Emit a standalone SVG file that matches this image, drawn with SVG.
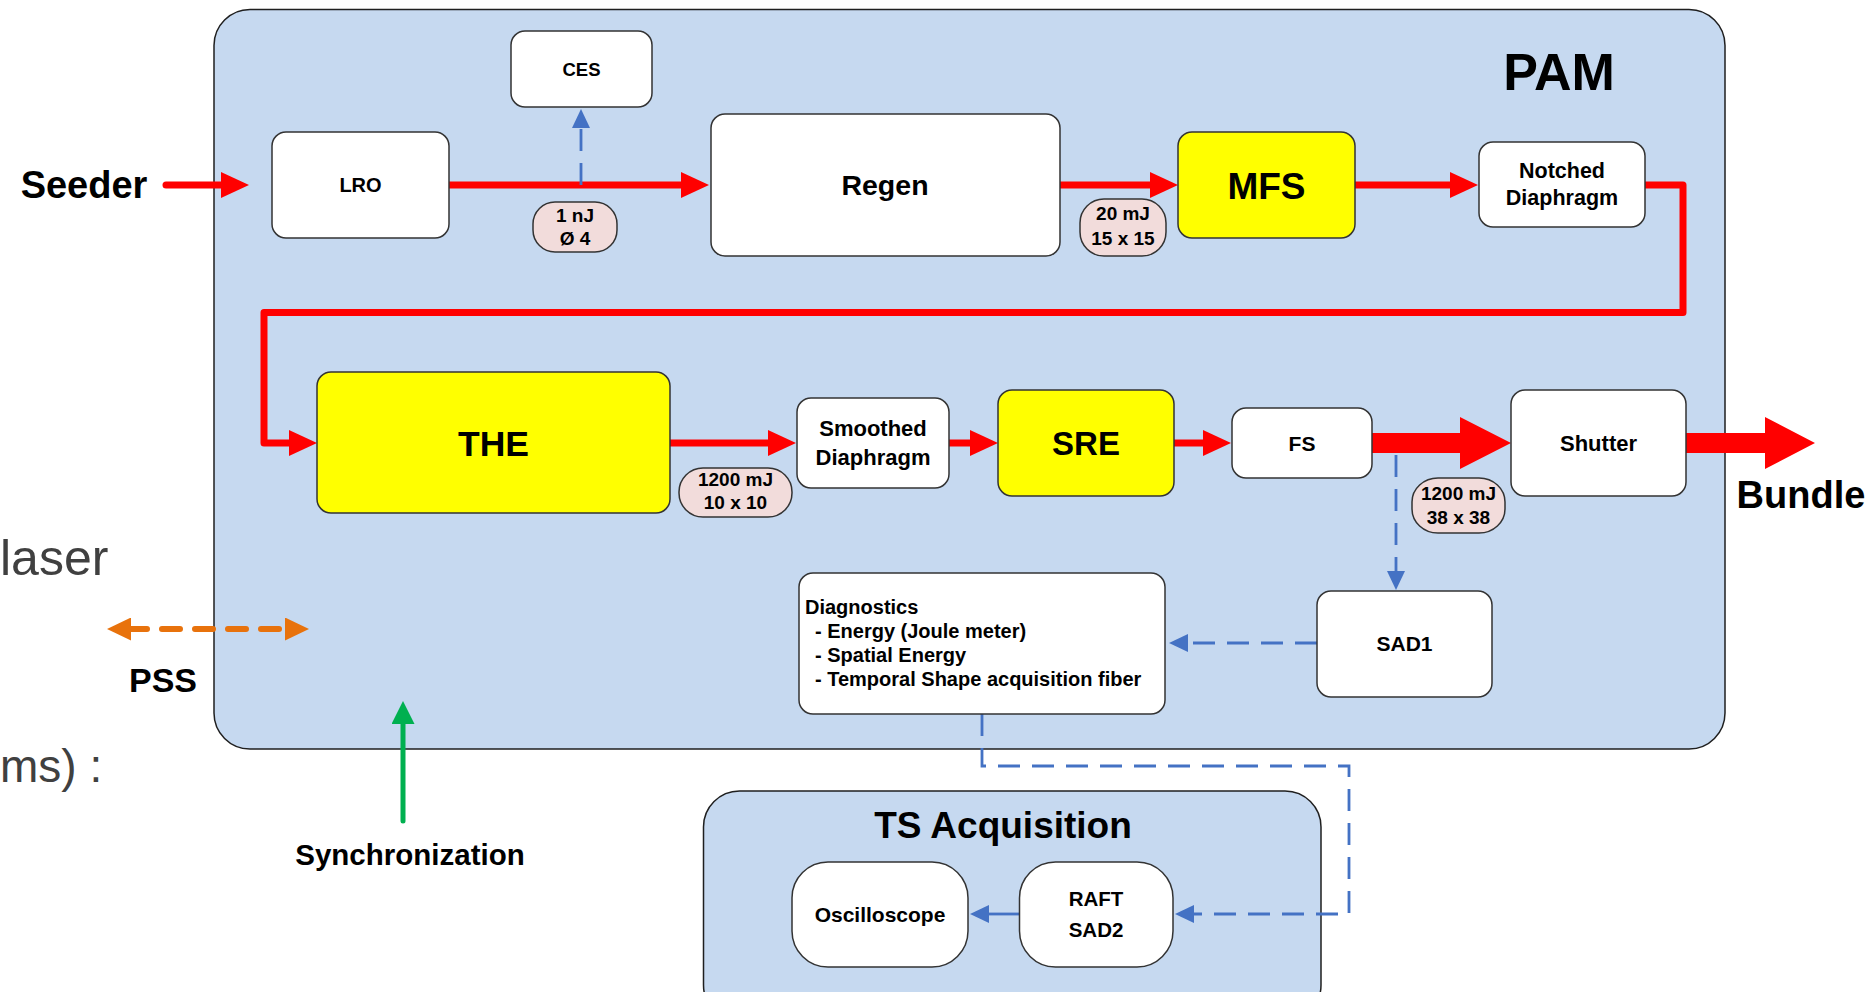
<svg xmlns="http://www.w3.org/2000/svg" width="1876" height="992" viewBox="0 0 1876 992">
  <style>
    text { font-family: "Liberation Sans", Arial, sans-serif; font-weight: bold; fill: #000; text-anchor: middle; }
    .container { fill: #c6d9f0; stroke: #1f1f1f; stroke-width: 1.5; }
    .box { fill: #ffffff; stroke: #333333; stroke-width: 1.5; }
    .hot { fill: #ffff00; stroke: #333333; stroke-width: 1.5; }
    .pill { fill: #f2dcdb; stroke: #333333; stroke-width: 1.5; }
    .beam { fill: none; stroke: #ff0000; stroke-width: 7; stroke-linejoin: round; }
    .beamHead { fill: #ff0000; }
    .signal { fill: none; stroke: #4472c4; stroke-width: 2.8; stroke-dasharray: 22 12; }
    .solid-signal { fill: none; stroke: #4472c4; stroke-width: 2.8; }
    .pss { fill: none; stroke: #e8720c; stroke-width: 6; stroke-dasharray: 18 15; stroke-linecap: round; }
    .sync { fill: none; stroke: #00b050; stroke-width: 5; stroke-linecap: round; }
    .grey { font-family: "Liberation Sans", Arial, sans-serif; font-weight: normal; fill: #404040; text-anchor: start; }
    .list { text-anchor: start; font-size: 20px; }
  </style>
  <defs>
    <marker id="redHead" viewBox="0 0 28 26" refX="1" refY="13" markerWidth="28" markerHeight="26" markerUnits="userSpaceOnUse" orient="auto">
      <path d="M0,0 L28,13 L0,26 z" fill="#ff0000"/>
    </marker>
    <marker id="blueHead" viewBox="0 0 19 18" refX="1" refY="9" markerWidth="19" markerHeight="18" markerUnits="userSpaceOnUse" orient="auto">
      <path d="M0,0 L19,9 L0,18 z" fill="#4472c4"/>
    </marker>
    <marker id="orangeHead" viewBox="0 0 24 23" refX="2" refY="11.5" markerWidth="24" markerHeight="23" markerUnits="userSpaceOnUse" orient="auto-start-reverse">
      <path d="M0,0 L24,11.5 L0,23 z" fill="#e8720c"/>
    </marker>
    <marker id="greenHead" viewBox="0 0 23 24" refX="1" refY="11.5" markerWidth="23" markerHeight="24" markerUnits="userSpaceOnUse" orient="auto">
      <path d="M0,0 L23,11.5 L0,23 z" fill="#00b050"/>
    </marker>
  </defs>

  <!-- surrounding slide text -->
  <text class="grey" x="0" y="575" font-size="50">laser</text>
  <text class="grey" x="0" y="782" font-size="46">ms) :</text>

  <!-- containers -->
  <g id="pam">
    <rect class="container" x="214" y="9.5" width="1511" height="739.5" rx="36"/>
    <text x="1559" y="90" font-size="52">PAM</text>
  </g>
  <g id="ts-acquisition">
    <rect class="container" x="703.5" y="791" width="617.5" height="230" rx="36"/>
    <text x="1003" y="838" font-size="37">TS Acquisition</text>
  </g>

  <!-- connectors -->
  <g id="connectors">
    <!-- laser beam path -->
    <path class="beam" d="M166,185 H222" stroke-linecap="round" marker-end="url(#redHead)"/>
    <path class="beam" d="M449,185 H682" marker-end="url(#redHead)"/>
    <path class="beam" d="M1060,185 H1151" marker-end="url(#redHead)"/>
    <path class="beam" d="M1355,185 H1451" marker-end="url(#redHead)"/>
    <path class="beam" d="M1645,185 H1683 V312.5 H264 V443 H290" marker-end="url(#redHead)"/>
    <path class="beam" d="M670,443 H769" marker-end="url(#redHead)"/>
    <path class="beam" d="M949,443 H971" marker-end="url(#redHead)"/>
    <path class="beam" d="M1174,443 H1204" marker-end="url(#redHead)"/>
    <!-- amplified beam -->
    <polygon class="beamHead" points="1372,433 1460,433 1460,417 1511,443 1460,469 1460,453 1372,453"/>
    <polygon class="beamHead" points="1686,433 1765,433 1765,417 1815,443 1765,469 1765,453 1686,453"/>

    <!-- diagnostic signals -->
    <path class="signal" d="M581,185 V127" marker-end="url(#blueHead)"/>
    <path class="signal" d="M1396,455 V572" stroke-dasharray="34 12" marker-end="url(#blueHead)"/>
    <path class="signal" d="M1317,643 H1187" stroke-dasharray="18 10" marker-end="url(#blueHead)"/>
    <path class="signal" d="M982,714 V766 H1349 V914 H1193" marker-end="url(#blueHead)"/>
    <path class="solid-signal" d="M1019.5,914 H988" marker-end="url(#blueHead)"/>

    <!-- external interfaces -->
    <path class="pss" d="M129,629 H287" marker-start="url(#orangeHead)" marker-end="url(#orangeHead)"/>
    <path class="sync" d="M403,821 V723" marker-end="url(#greenHead)"/>
  </g>

  <!-- external labels -->
  <text x="84" y="198" font-size="38">Seeder</text>
  <text x="1801" y="508" font-size="38">Bundle</text>
  <text x="163" y="692" font-size="34">PSS</text>
  <text x="410" y="865" font-size="29.5">Synchronization</text>

  <!-- PAM nodes -->
  <g id="lro">
    <rect class="box" x="272" y="132" width="177" height="106" rx="14"/>
    <text x="360.5" y="192" font-size="20">LRO</text>
  </g>
  <g id="ces">
    <rect class="box" x="511" y="31" width="141" height="76" rx="14"/>
    <text x="581.5" y="75.5" font-size="18.5">CES</text>
  </g>
  <g id="regen">
    <rect class="box" x="711" y="114" width="349" height="142" rx="14"/>
    <text x="885" y="195" font-size="28.5">Regen</text>
  </g>
  <g id="mfs">
    <rect class="hot" x="1178" y="132" width="177" height="106" rx="14"/>
    <text x="1266.5" y="198.5" font-size="37">MFS</text>
  </g>
  <g id="notched-diaphragm">
    <rect class="box" x="1479" y="142" width="166" height="85" rx="14"/>
    <text x="1562" y="178" font-size="21.5">Notched</text>
    <text x="1562" y="205" font-size="21.5">Diaphragm</text>
  </g>
  <g id="the">
    <rect class="hot" x="317" y="372" width="353" height="141" rx="14"/>
    <text x="493.5" y="456" font-size="35.5">THE</text>
  </g>
  <g id="smoothed-diaphragm">
    <rect class="box" x="797" y="398" width="152" height="90" rx="14"/>
    <text x="873" y="435.5" font-size="22">Smoothed</text>
    <text x="873" y="464.5" font-size="22">Diaphragm</text>
  </g>
  <g id="sre">
    <rect class="hot" x="998" y="390" width="176" height="106" rx="14"/>
    <text x="1086" y="455" font-size="33">SRE</text>
  </g>
  <g id="fs">
    <rect class="box" x="1232" y="408" width="140" height="70" rx="14"/>
    <text x="1302" y="450.5" font-size="21">FS</text>
  </g>
  <g id="shutter">
    <rect class="box" x="1511" y="390" width="175" height="106" rx="14"/>
    <text x="1598.5" y="450.5" font-size="22">Shutter</text>
  </g>
  <g id="sad1">
    <rect class="box" x="1317" y="591" width="175" height="106" rx="14"/>
    <text x="1404.5" y="650.5" font-size="21">SAD1</text>
  </g>
  <g id="diagnostics">
    <rect class="box" x="799" y="573" width="366" height="141" rx="14"/>
    <text class="list" x="805" y="614">Diagnostics</text>
    <text class="list" x="815" y="638">- Energy (Joule meter)</text>
    <text class="list" x="815" y="662">- Spatial Energy</text>
    <text class="list" x="815" y="686">- Temporal Shape acquisition fiber</text>
  </g>

  <!-- beam measurements -->
  <g id="label-1nj">
    <rect class="pill" x="533" y="202" width="84" height="50" rx="22" ry="22"/>
    <text x="575" y="222" font-size="19">1 nJ</text>
    <text x="575" y="245" font-size="19">Ø 4</text>
  </g>
  <g id="label-20mj">
    <rect class="pill" x="1080" y="199" width="86" height="57" rx="24" ry="24"/>
    <text x="1123" y="220" font-size="19">20 mJ</text>
    <text x="1123" y="245" font-size="19">15 x 15</text>
  </g>
  <g id="label-1200mj-a">
    <rect class="pill" x="679" y="468" width="113" height="49" rx="24" ry="24"/>
    <text x="735.5" y="485.5" font-size="19">1200 mJ</text>
    <text x="735.5" y="509" font-size="19">10 x 10</text>
  </g>
  <g id="label-1200mj-b">
    <rect class="pill" x="1412" y="478" width="93" height="55" rx="26" ry="24"/>
    <text x="1458.5" y="499.5" font-size="19">1200 mJ</text>
    <text x="1458.5" y="524" font-size="19">38 x 38</text>
  </g>

  <!-- TS acquisition nodes -->
  <g id="oscilloscope">
    <rect class="box" x="792" y="862" width="176" height="105" rx="36"/>
    <text x="880" y="921.5" font-size="21">Oscilloscope</text>
  </g>
  <g id="raft-sad2">
    <rect class="box" x="1019.5" y="862" width="153.5" height="105" rx="36"/>
    <text x="1096" y="906" font-size="20.5">RAFT</text>
    <text x="1096" y="936.5" font-size="20.5">SAD2</text>
  </g>
</svg>
